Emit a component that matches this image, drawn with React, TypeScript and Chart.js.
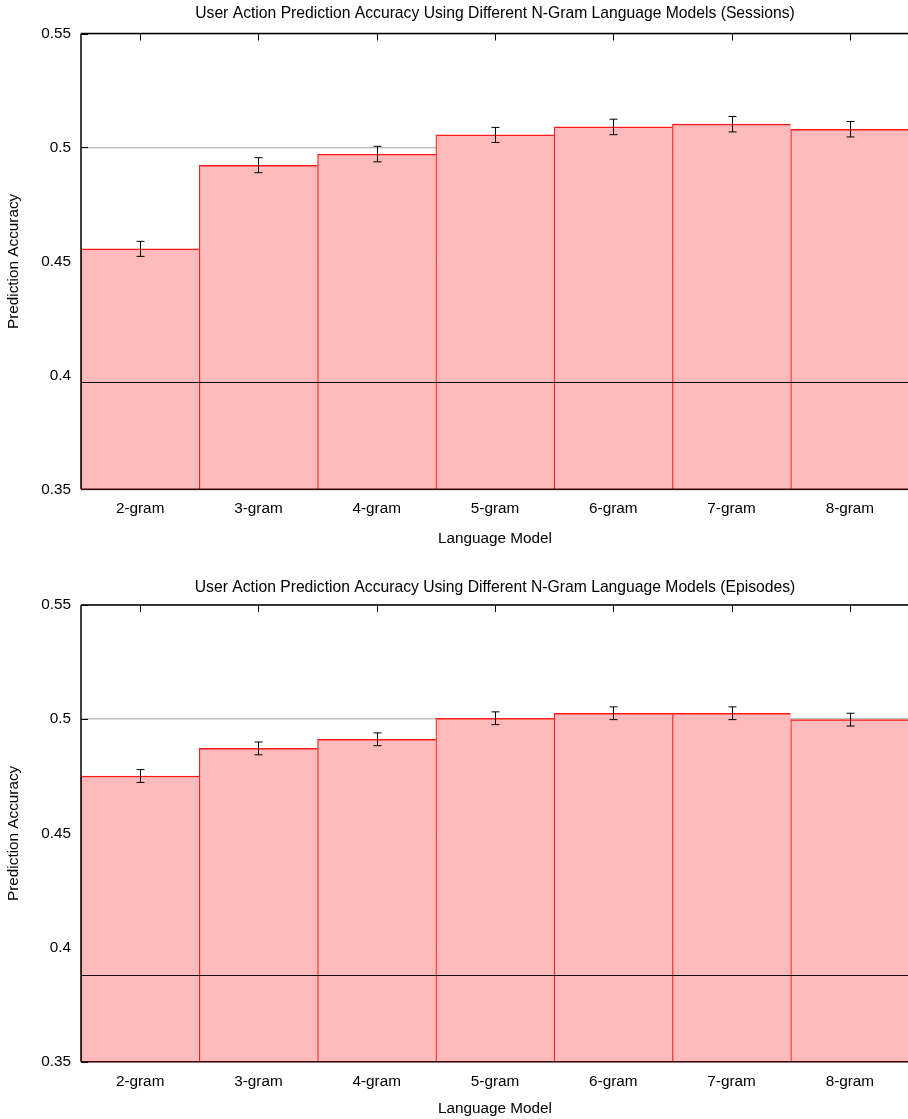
import React, { useEffect, useRef } from "react";
import { Chart, registerables } from "chart.js";

Chart.register(...registerables);

const categories = ["2-gram", "3-gram", "4-gram", "5-gram", "6-gram", "7-gram", "8-gram"];

const sessionsAccuracy = [0.4555, 0.4922, 0.4971, 0.5055, 0.509, 0.5102, 0.508];
const sessionsError = [0.0033, 0.0033, 0.0034, 0.0033, 0.0034, 0.0034, 0.0034];
const sessionsBaseline = 0.397;

const episodesAccuracy = [0.4751, 0.4872, 0.4912, 0.5004, 0.5026, 0.5026, 0.4998];
const episodesError = [0.0028, 0.0028, 0.0028, 0.0028, 0.0028, 0.0028, 0.0028];
const episodesBaseline = 0.388;

const yTickLabels = ["0.35", "0.4", "0.45", "0.5", "0.55"];

const FONT = "'Liberation Sans', Arial, Helvetica, sans-serif";

type Props = {
  title: string;
  values: number[];
  errors: number[];
  baseline: number;
  top: number;
  height: number;
  padTop: number;
  xAxisHeight: number;
  titleY: number;
  xTitleY: number;
};

function NGramChart(p: Props) {
  const ref = useRef<HTMLCanvasElement | null>(null);
  useEffect(() => {
    if (!ref.current) return;
    const line = (ctx: CanvasRenderingContext2D, x1: number, y1: number, x2: number, y2: number) => {
      ctx.beginPath();
      ctx.moveTo(x1, y1);
      ctx.lineTo(x2, y2);
      ctx.stroke();
    };
    const frame = {
      id: "frame",
      beforeDatasetsDraw(chart: any) {
        const { ctx, chartArea: a, scales } = chart;
        const x = scales.x;
        const y = scales.y;
        ctx.save();
        ctx.strokeStyle = "#000";
        ctx.lineWidth = 1;
        for (let i = 0; i < categories.length; i++) {
          const px = Math.round(x.getPixelForValue(i)) + 0.5;
          line(ctx, px, a.top, px, a.top + 7);
        }
        y.ticks.forEach((t: any) => {
          const py = Math.round(y.getPixelForValue(t.value)) + 0.5;
          line(ctx, a.left, py, a.left + 7, py);
        });
        ctx.restore();
      },
      afterDatasetsDraw(chart: any) {
        const { ctx, chartArea: a, scales } = chart;
        const x = scales.x;
        const y = scales.y;
        ctx.save();
        // baseline
        ctx.strokeStyle = "#111";
        ctx.lineWidth = 1;
        const by = Math.round(y.getPixelForValue(p.baseline)) + 0.5;
        line(ctx, a.left, by, a.right, by);
        // error bars
        ctx.strokeStyle = "#000";
        p.values.forEach((v, i) => {
          const cx = Math.round(x.getPixelForValue(i)) + 0.5;
          const y1 = y.getPixelForValue(v + p.errors[i]);
          const y2 = y.getPixelForValue(v - p.errors[i]);
          line(ctx, cx, y1, cx, y2);
          line(ctx, cx - 4, y1, cx + 4, y1);
          line(ctx, cx - 4, y2, cx + 4, y2);
        });
        // borders
        ctx.strokeStyle = "#000";
        ctx.lineWidth = 1.5;
        line(ctx, a.left, a.top, a.right, a.top);
        line(ctx, a.left, a.top, a.left, a.bottom);
        ctx.strokeStyle = "#3a0a0a";
        line(ctx, a.left, a.bottom, a.right, a.bottom);
        ctx.restore();
      },
      afterDraw(chart: any) {
        const { ctx, chartArea: a } = chart;
        ctx.save();
        ctx.fillStyle = "#000";
        ctx.textAlign = "center";
        ctx.textBaseline = "middle";
        const cx = (a.left + a.right) / 2;
        ctx.font = `15.7px ${FONT}`;
        ctx.fillText(p.title, cx, p.titleY);
        ctx.font = `15.3px ${FONT}`;
        ctx.fillText("Language Model", cx, p.xTitleY);
        ctx.translate(14, (a.top + a.bottom) / 2);
        ctx.rotate(-Math.PI / 2);
        ctx.fillText("Prediction Accuracy", 0, 0);
        ctx.restore();
      },
    };
    const chart = new Chart(ref.current, {
      type: "bar",
      data: {
        labels: categories,
        datasets: [
          {
            data: p.values,
            backgroundColor: "#ffbbbb",
            borderColor: "#ff1a1a",
            borderWidth: { top: 1.5, left: 1.2, right: 0, bottom: 0 } as any,
            borderSkipped: false,
            categoryPercentage: 1,
            barPercentage: 1,
          },
        ],
      },
      options: {
        responsive: false,
        animation: false,
        devicePixelRatio: 1,
        layout: { padding: { top: p.padTop, right: 11, bottom: 0, left: 0 } },
        plugins: {
          legend: { display: false },
          tooltip: { enabled: false },
          title: { display: false },
        },
        scales: {
          x: {
            grid: { display: false, drawTicks: false },
            border: { display: false },
            ticks: {
              color: "#000",
              font: { family: FONT, size: 15.3 },
              padding: 10.5,
              maxRotation: 0,
              autoSkip: false,
            },
            afterFit: (s: any) => {
              s.height = p.xAxisHeight;
            },
          },
          y: {
            min: 0.35,
            max: 0.55,
            ticks: {
              stepSize: 0.05,
              color: "#000",
              font: { family: FONT, size: 15.3 },
              padding: 10,
              callback: (_v: any, i: number) => yTickLabels[i],
            },
            grid: { color: "#c0c0c0", lineWidth: 1.5, drawTicks: false },
            border: { display: false },
            afterFit: (s: any) => {
              s.width = 81;
            },
          },
        },
      },
      plugins: [frame],
    });
    return () => chart.destroy();
  }, []);
  return (
    <canvas
      ref={ref}
      width={920}
      height={p.height}
      style={{ position: "absolute", left: 0, top: p.top, display: "block" }}
    />
  );
}

export default function App() {
  return (
    <div
      style={{
        position: "absolute",
        left: 0,
        top: 0,
        width: 908,
        height: 1119,
        overflow: "hidden",
        background: "#fff",
      }}
    >
      <NGramChart
        title="User Action Prediction Accuracy Using Different N-Gram Language Models (Sessions)"
        values={sessionsAccuracy}
        errors={sessionsError}
        baseline={sessionsBaseline}
        top={0}
        height={560}
        padTop={33.5}
        xAxisHeight={70.7}
        titleY={14}
        xTitleY={538.5}
      />
      <NGramChart
        title="User Action Prediction Accuracy Using Different N-Gram Language Models (Episodes)"
        values={episodesAccuracy}
        errors={episodesError}
        baseline={episodesBaseline}
        top={560}
        height={559}
        padTop={45}
        xAxisHeight={57.3}
        titleY={27.5}
        xTitleY={549}
      />
    </div>
  );
}
